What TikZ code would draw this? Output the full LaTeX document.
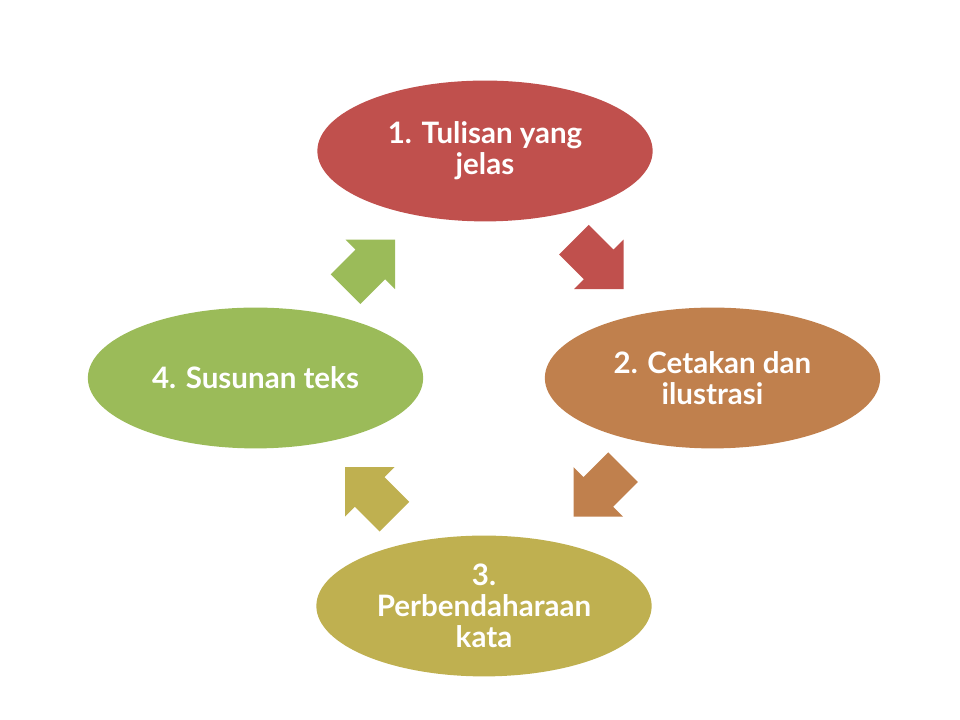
\documentclass[tikz,border=0pt]{standalone}
\usepackage{fontspec}
\setmainfont{Lato}
\usetikzlibrary{shapes.geometric, calc}

\definecolor{accred}{HTML}{C0504D}
\definecolor{accbrown}{HTML}{C0804D}
\definecolor{accolive}{HTML}{BFB050}
\definecolor{accgreen}{HTML}{9BBB59}

\begin{document}
\begin{tikzpicture}[
  x=0.025cm, y=0.025cm,
  font=\fontsize{21}{22}\selectfont\bfseries,
  stage/.style={ellipse, minimum width=8.38cm, minimum height=3.52cm, inner sep=-4pt, align=center, text=white},
  blockarrow/.pic={\fill (-35,-21) -- (0,-21) -- (0,-35) -- (35,0) -- (0,35) -- (0,21) -- (-35,21) -- cycle;}
]
\useasboundingbox (0,0) rectangle (960,720);

\node (tulisan) [stage, fill=accred]   at (485,569)   {1. Tulisan yang\\jelas};
\node (cetakan) [stage, fill=accbrown] at (712.5,342) {2. Cetakan dan\\ilustrasi};
\node (kata)    [stage, fill=accolive] at (484,114)   {3.\\Perbendaharaan\\kata};
\node (susunan) [stage, fill=accgreen] at (255.5,342) {4. Susunan teks};

% arrows between the stages
\pic [rotate=-45,  color=accred]   at ($(tulisan)!0.5!(cetakan)$) {blockarrow};
\pic [rotate=-135, color=accbrown] at ($(cetakan)!0.5!(kata)$)    {blockarrow};
\pic [rotate=135,  color=accolive] at ($(kata)!0.5!(susunan)$)    {blockarrow};
\pic [rotate=45,   color=accgreen] at ($(susunan)!0.5!(tulisan)$) {blockarrow};
\end{tikzpicture}
\end{document}
